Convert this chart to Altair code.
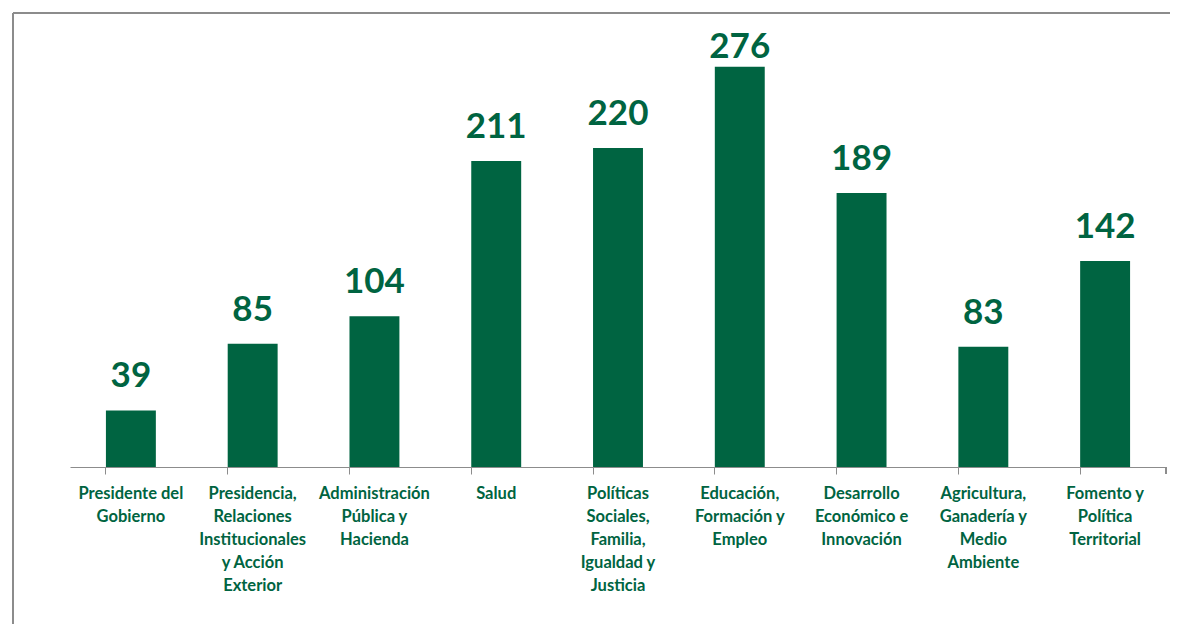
import altair as alt
import pandas as pd

categories = [
    "Presidente del|Gobierno",
    "Presidencia,|Relaciones|Institucionales|y Acción|Exterior",
    "Administración|Pública y|Hacienda",
    "Salud",
    "Políticas|Sociales,|Familia,|Igualdad y|Justicia",
    "Educación,|Formación y|Empleo",
    "Desarrollo|Económico e|Innovación",
    "Agricultura,|Ganadería y|Medio|Ambiente",
    "Fomento y|Política|Territorial",
]
values = [39, 85, 104, 211, 220, 276, 189, 83, 142]

GREEN = "#006441"
GRAY = "#8c8c8c"
W, H = 1096, 435

df = pd.DataFrame({"cat": categories, "val": values})

xenc = alt.X(
    "cat:N",
    sort=categories,
    title=None,
    scale=alt.Scale(paddingInner=0.59, paddingOuter=0.295),
    axis=alt.Axis(
        labelAngle=0,
        labelExpr="split(datum.label, '|')",
        labelFont="Lato",
        labelFontWeight="bold",
        labelFontSize=16.5,
        labelColor=GREEN,
        labelLineHeight=23,
        labelPadding=11,
        labelBaseline="top",
        labelLimit=200,
        bandPosition=0,
        tickSize=7,
        tickColor=GRAY,
        domainColor=GRAY,
        domainWidth=1,
        tickWidth=1,
        grid=False,
    ),
)
yscale = alt.Scale(domain=[0, 300], nice=False)
yenc = alt.Y("val:Q", scale=yscale, axis=None)

bars = alt.Chart(df).mark_bar(color=GREEN).encode(x=xenc, y=yenc)
# labels kept inside the plot area (as the spreadsheet does for the tallest bar)
labels = (
    alt.Chart(df)
    .transform_calculate(lp="min(datum.val, 266.2)")
    .mark_text(color=GREEN, font="Lato", fontWeight="bold", fontSize=35,
               baseline="alphabetic", dy=-23)
    .encode(x=alt.X("cat:N", sort=categories), y=alt.Y("lp:Q", scale=yscale), text="val:Q")
)

end_tick = alt.Chart(df).mark_rule(color=GRAY, strokeWidth=1).encode(
    x=alt.value(W), y=alt.value(H), y2=alt.value(H + 7)
)
border_top = alt.Chart(df).mark_rule(color=GRAY, strokeWidth=2, clip=False).encode(
    x=alt.value(-57), x2=alt.value(W + 30), y=alt.value(-19)
)
border_left = alt.Chart(df).mark_rule(color=GRAY, strokeWidth=2, clip=False).encode(
    x=alt.value(-57), y=alt.value(-19), y2=alt.value(H + 200)
)

chart = (
    alt.layer(bars, labels, end_tick, border_top, border_left)
    .properties(
        width=W,
        height=H,
        autosize=alt.AutoSizeParams(type="none"),
        padding={"left": 62, "top": 24, "right": 4, "bottom": 160},
    )
    .configure_view(stroke=None)
)

chart.save("out.html", embed_options={"renderer": "svg", "actions": False})
